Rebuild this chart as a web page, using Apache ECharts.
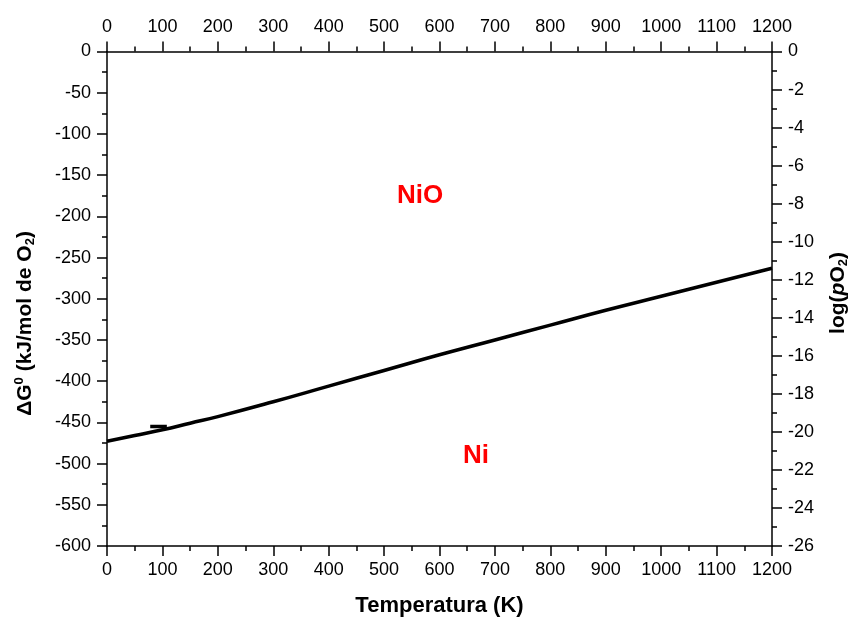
<!DOCTYPE html>
<html>
<head>
<meta charset="utf-8">
<script src="https://cdn.jsdelivr.net/npm/echarts@6/dist/echarts.min.js"></script>
<style>html,body{margin:0;padding:0;background:#fff}#c{width:857px;height:619px}</style>
</head>
<body>
<div id="c"></div>
<script>
var temps = [0, 50, 100, 150, 200, 300, 400, 500, 600, 700, 800, 900, 1000, 1100, 1200];
var deltaG = [-473, -466, -459, -451, -443, -425, -406, -387, -368, -350, -332, -314, -297, -280, -263];
var stubT = [78, 108];
var stubG = [-455, -455];
var regionNames = ['NiO', 'Ni'];
var regionT = [565, 666];
var regionG = [-175, -491];

var font = 'Liberation Sans, Arial, sans-serif';
var chart = echarts.init(document.getElementById('c'));
function pairs(xs, ys){ return xs.map(function(x,i){return [x, ys[i]];}); }
function axis(extra, labelMargin){
  return Object.assign({
    axisLine: {show: true, onZero: false, lineStyle: {color: '#000', width: 1.5}},
    axisTick: {show: true, inside: false, length: 10, lineStyle: {color: '#000', width: 1.5}},
    minorTick: {show: true, splitNumber: 2, length: 5, lineStyle: {color: '#000', width: 1.5}},
    axisLabel: {color: '#000', fontFamily: font, fontSize: 18, margin: labelMargin,
      formatter: function(v){ return String(v); }},
    splitLine: {show: false}
  }, extra);
}
chart.setOption({
  animation: false,
  grid: {left: 107, right: 85, top: 51.5, bottom: 73},
  xAxis: [
    axis({type: 'value', position: 'bottom', min: 0, max: 1200, interval: 100}, 15),
    axis({type: 'value', position: 'top', min: 0, max: 1200, interval: 100}, 15)
  ],
  yAxis: [
    axis({type: 'value', position: 'left', min: -600, max: 0, interval: 50}, 16),
    axis({type: 'value', position: 'right', min: -26, max: 0, interval: 2}, 16)
  ],
  series: [
    {type: 'line', xAxisIndex: 0, yAxisIndex: 0, data: pairs(temps, deltaG), symbol: 'none', smooth: true,
     lineStyle: {color: '#000', width: 3.5}, silent: true,
     markPoint: {symbol: 'circle', symbolSize: 0,
       label: {show: true, color: '#ff0000', fontFamily: font, fontSize: 26, fontWeight: 'bold', formatter: '{b}'},
       data: regionNames.map(function(n, i){return {name: n, coord: [regionT[i], regionG[i]]};})}},
    {type: 'line', xAxisIndex: 0, yAxisIndex: 0, data: pairs(stubT, stubG), symbol: 'none',
     lineStyle: {color: '#000', width: 3.5}, silent: true}
  ]
});
var yTitlePos = chart.convertToPixel({xAxisIndex: 0, yAxisIndex: 0}, [0, -330]);
var rTitlePos = chart.convertToPixel({xAxisIndex: 0, yAxisIndex: 0}, [1200, -293]);
var xTitlePos = chart.convertToPixel({xAxisIndex: 0, yAxisIndex: 0}, [600, -600]);
var big = 'bold 21px ' + font, small = 'bold 13px ' + font;
chart.setOption({graphic: [
  {type: 'text', x: 25, y: yTitlePos[1], rotation: Math.PI/2,
   style: {text: '{a|ΔG}{sup|0}{a| (kJ/mol de O}{sub|2}{a|)}', align: 'center', verticalAlign: 'middle',
     rich: {a: {font: big, fill: '#000', lineHeight: 24},
            sup: {font: small, fill: '#000', verticalAlign: 'top', lineHeight: 13},
            sub: {font: small, fill: '#000', verticalAlign: 'bottom', lineHeight: 13}}}},
  {type: 'text', x: rTitlePos[0] + 66, y: rTitlePos[1], rotation: Math.PI/2,
   style: {text: '{a|log(}{b|p}{a|O}{sub|2}{a|)}', align: 'center', verticalAlign: 'middle',
     rich: {a: {font: big, fill: '#000', lineHeight: 24},
            b: {font: 'italic ' + big, fill: '#000', lineHeight: 24},
            sub: {font: small, fill: '#000', verticalAlign: 'bottom', lineHeight: 13}}}},
  {type: 'text', x: xTitlePos[0], y: 606,
   style: {text: 'Temperatura (K)', font: 'bold 22px ' + font, fill: '#000', align: 'center', verticalAlign: 'middle'}}
]});
</script>
</body>
</html>
